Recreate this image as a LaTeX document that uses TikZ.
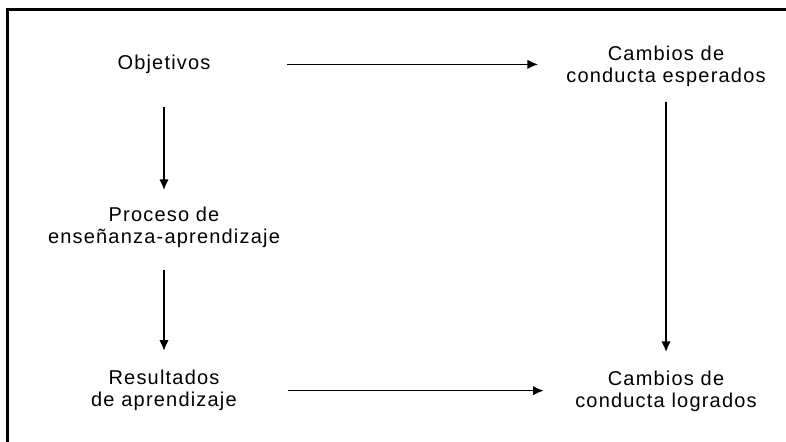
\documentclass[tikz,border=0pt]{standalone}
\usepackage{fontspec}
\setmainfont{Liberation Sans}[LetterSpace=6]
\usetikzlibrary{arrows,arrows.meta,calc}
\newcommand*{\xMin}{0}
\newcommand*{\xMax}{786}
\newcommand*{\yMin}{0}
\newcommand*{\yMax}{442}
\newcommand*{\xLeft}{164}
\newcommand*{\xRight}{666}

\begin{document}
\begin{tikzpicture}[x=0.75pt,y=0.75pt,
	txt/.style={align=center,inner sep=0pt,font=\fontsize{15}{16.5}\selectfont},
	flecha/.style={-{Latex[length=8pt,width=7pt]},line width=1pt}]
\useasboundingbox (\xMin,\yMin) rectangle (\xMax,\yMax);

% marco
\draw[line width=2.25pt] (7,\yMin) -- (7,432) -- (\xMax,432);

\begin{scope}[xshift=0cm,yshift=0cm]
	% columna izquierda
	\node[txt] (obj) at (\xLeft,377.6) {Objetivos};
	\node[txt] (proc) at (\xLeft,215) {Proceso de\\ense\~nanza-aprendizaje};
	\node[txt] (res) at (\xLeft,51.3) {Resultados\\de aprendizaje};
	% columna derecha
	\node[txt] (esp) at (\xRight,375.5) {Cambios de\\conducta esperados};
	\node[txt] (log) at (\xRight,51) {Cambios de\\conducta logrados};
\end{scope}

% flechas
\draw[flecha,shorten <=57pt,shorten >=21pt] (obj.east) -- (obj.east -| esp.west);
\draw[flecha,shorten <=38pt,shorten >=23.5pt] (res.east) -- (res.east -| log.west);
\draw[flecha,shorten <=25pt,shorten >=12.3pt] (obj.south) -- (proc.north);
\draw[flecha,shorten <=17pt,shorten >=14.5pt] (proc.south) -- (res.north);
\draw[flecha,shorten <=11pt,shorten >=13.8pt] (esp.south) -- (log.north);

\end{tikzpicture}
\end{document}
